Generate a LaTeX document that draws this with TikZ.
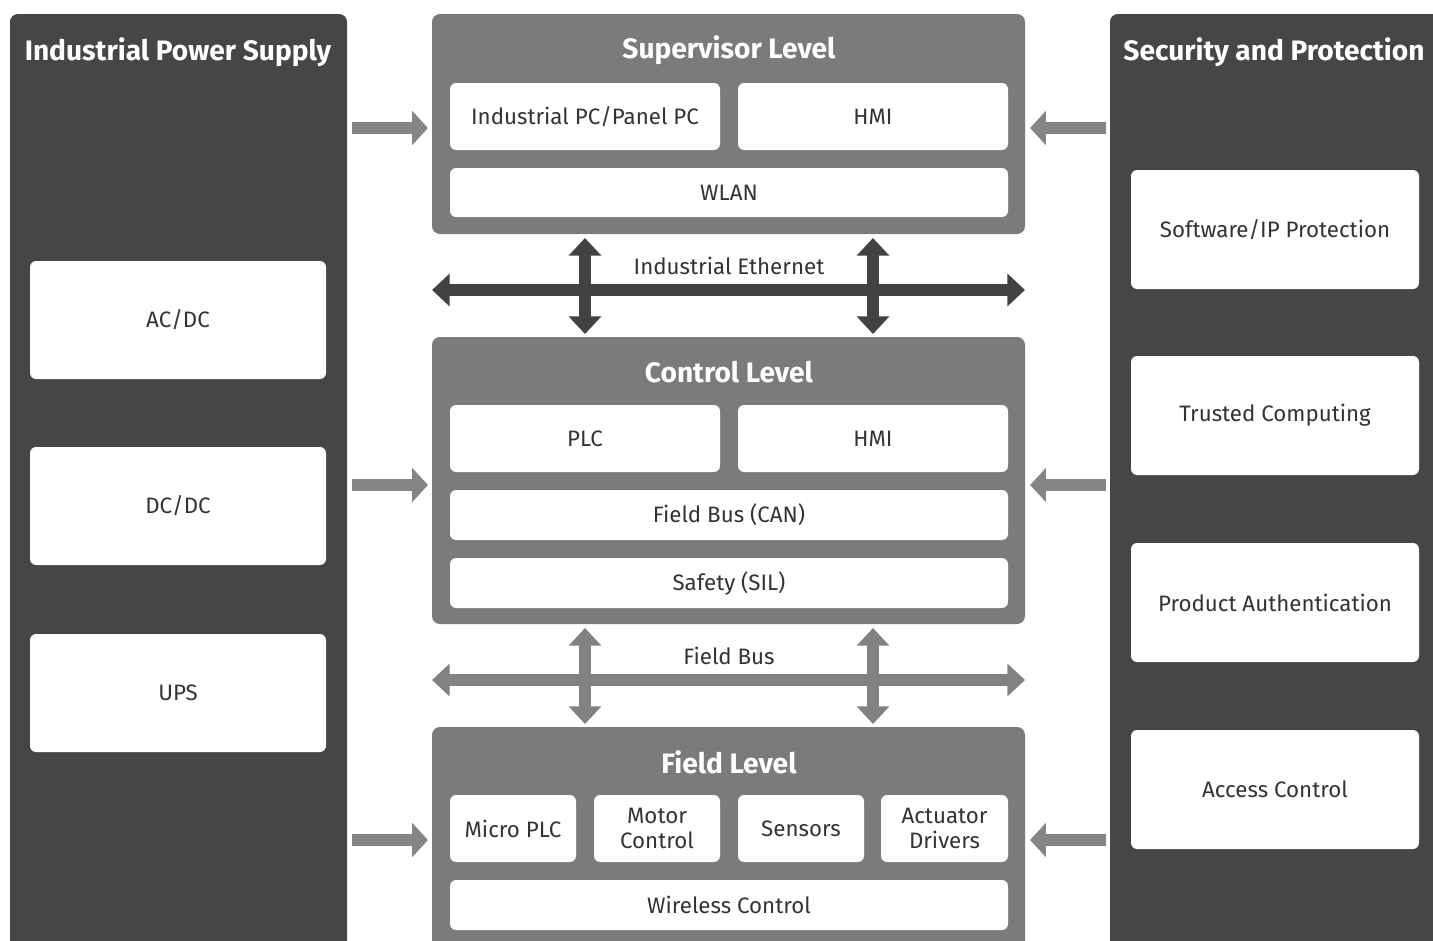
\documentclass[tikz,border=0pt]{standalone}
\usepackage{fontspec}
\setmainfont{Fira Sans}
\usetikzlibrary{arrows.meta}
\definecolor{darkp}{HTML}{464646}
\definecolor{midp}{HTML}{7B7B7B}
\definecolor{sidec}{HTML}{858585}
\definecolor{ethc}{HTML}{424242}
\definecolor{busc}{HTML}{828282}
\definecolor{txt}{HTML}{333333}
\newcommand\bx[7]{\node[#7, minimum width={(#4-#2)*0.02cm}, minimum height={(#5-#3)*0.02cm}] (#1) at ({(#2+#4)/2},{(#3+#5)/2}) {#6};}
\begin{document}
\begin{tikzpicture}[x=0.02cm,y=-0.02cm,
  darkpanel/.style={fill=darkp, rounded corners=4.5pt, inner sep=0pt, outer sep=0pt},
  midpanel/.style={fill=midp, rounded corners=4.5pt, inner sep=0pt, outer sep=0pt},
  wbox/.style={fill=white, rounded corners=3.5pt, inner sep=0pt, outer sep=0pt, text=txt, align=center, font=\fontsize{12.7}{15}\selectfont},
  ptitle/.style={text=white, font=\fontsize{16}{18}\selectfont\bfseries, inner sep=0pt},
  lbl/.style={text=txt, font=\fontsize{12.7}{15}\selectfont, inner sep=0pt},
  sidear/.style={draw=sidec, line width=6.8pt, -{Triangle[width=19pt,length=9pt]}},
  ethar/.style={draw=ethc, line width=6.5pt, {Triangle[width=18pt,length=10pt]}-{Triangle[width=18pt,length=10pt]}},
  busar/.style={draw=busc, line width=6.5pt, {Triangle[width=18pt,length=10pt]}-{Triangle[width=18pt,length=10pt]}}
]
\useasboundingbox (0,0) rectangle (1433,940);
\clip (0,0) rectangle (1433,940);
\fill[white] (0,0) rectangle (1433,940);

% side panels
\bx{lp}{10}{14}{347}{980}{}{darkpanel}
\node[ptitle] (lpt) at (178,52) {Industrial Power Supply};
\bx{acdc}{30}{261}{326}{379}{AC/DC}{wbox}
\bx{dcdc}{30}{447}{326}{565}{DC/DC}{wbox}
\bx{ups}{30}{634}{326}{752}{UPS}{wbox}

\bx{rp}{1110}{14}{1470}{980}{}{darkpanel}
\node[ptitle] (rpt) at (1274,52) {Security and Protection};
\bx{swip}{1131}{170}{1419}{289}{Software/IP Protection}{wbox}
\bx{trust}{1131}{356}{1419}{475}{Trusted Computing}{wbox}
\bx{auth}{1131}{543}{1419}{662}{Product Authentication}{wbox}
\bx{access}{1131}{730}{1419}{849}{Access Control}{wbox}

% supervisor level
\bx{sup}{432}{14}{1025}{234}{}{midpanel}
\node[ptitle] (supt) at (729,50) {Supervisor Level};
\bx{ipc}{450}{83}{720}{150}{Industrial PC/Panel PC}{wbox}
\bx{hmia}{738}{83}{1008}{150}{HMI}{wbox}
\bx{wlan}{450}{168}{1008}{217}{WLAN}{wbox}

% control level
\bx{ctl}{432}{337}{1025}{624}{}{midpanel}
\node[ptitle] (ctlt) at (729,372) {Control Level};
\bx{plc}{450}{405}{720}{472}{PLC}{wbox}
\bx{hmib}{738}{405}{1008}{472}{HMI}{wbox}
\bx{can}{450}{490}{1008}{540}{Field Bus (CAN)}{wbox}
\bx{sil}{450}{558}{1008}{608}{Safety (SIL)}{wbox}

% field level
\bx{fld}{432}{727}{1025}{980}{}{midpanel}
\node[ptitle] (fldt) at (729,762) {Field Level};
\bx{mplc}{450}{795}{576}{862}{Micro PLC}{wbox}
\bx{motor}{594}{795}{720}{862}{Motor\\[-1pt]Control}{wbox}
\bx{sens}{738}{795}{864}{862}{Sensors}{wbox}
\bx{act}{881}{795}{1008}{862}{Actuator\\[-1pt]Drivers}{wbox}
\bx{wctl}{450}{880}{1008}{930}{Wireless Control}{wbox}

% industrial ethernet
\coordinate (ethL) at (432,290);
\coordinate (ethR) at (1025,290);
\draw[ethar] (ethL) -- (ethR);
\draw[ethar, shorten <=2.3pt, shorten >=1.7pt] (sup.south -| ipc) -- (ctl.north -| ipc);
\draw[ethar, shorten <=2.3pt, shorten >=1.7pt] (sup.south -| hmia) -- (ctl.north -| hmia);
\node[lbl] (ethlbl) at (729,266) {Industrial Ethernet};

% field bus
\coordinate (fbL) at (432,680);
\coordinate (fbR) at (1025,680);
\draw[busar] (fbL) -- (fbR);
\draw[busar, shorten <=2.3pt, shorten >=1.7pt] (ctl.south -| plc) -- (fld.north -| plc);
\draw[busar, shorten <=2.3pt, shorten >=1.7pt] (ctl.south -| hmib) -- (fld.north -| hmib);
\node[lbl] (fblbl) at (729,656) {Field Bus};

% side arrows
\coordinate (la1) at (352,128);
\coordinate (la2) at (352,485);
\coordinate (la3) at (352,840);
\coordinate (ra1) at (1106,128);
\coordinate (ra2) at (1106,485);
\coordinate (ra3) at (1106,840);
\draw[sidear, shorten >=2.3pt] (la1) -- (sup.west |- la1);
\draw[sidear, shorten >=2.3pt] (la2) -- (ctl.west |- la2);
\draw[sidear, shorten >=2.3pt] (la3) -- (fld.west |- la3);
\draw[sidear, shorten >=2.9pt] (ra1) -- (sup.east |- ra1);
\draw[sidear, shorten >=2.9pt] (ra2) -- (ctl.east |- ra2);
\draw[sidear, shorten >=2.9pt] (ra3) -- (fld.east |- ra3);
\end{tikzpicture}
\end{document}
